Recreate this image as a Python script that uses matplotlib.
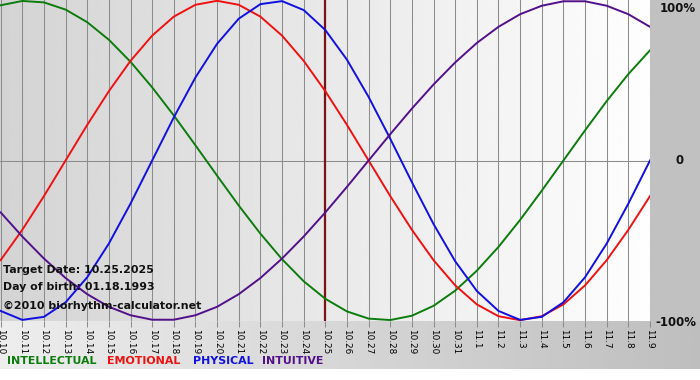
import numpy as np
import matplotlib
matplotlib.use("Agg")
import matplotlib.pyplot as plt

# ---- data ----
dates = ["10.10", "10.11", "10.12", "10.13", "10.14", "10.15", "10.16", "10.17",
         "10.18", "10.19", "10.20", "10.21", "10.22", "10.23", "10.24", "10.25",
         "10.26", "10.27", "10.28", "10.29", "10.30", "10.31", "11.1", "11.2",
         "11.3", "11.4", "11.5", "11.6", "11.7", "11.8", "11.9"]

intellectual = [0.972, 0.999, 0.990, 0.945, 0.866, 0.756, 0.618, 0.458, 0.282, 0.095,
                -0.095, -0.282, -0.458, -0.618, -0.756, -0.866, -0.945, -0.990, -0.999,
                -0.972, -0.910, -0.815, -0.690, -0.541, -0.372, -0.189, 0.0, 0.189,
                0.372, 0.541, 0.690]
emotional = [-0.624, -0.434, -0.223, 0.0, 0.223, 0.434, 0.624, 0.782, 0.901, 0.975,
             1.0, 0.975, 0.901, 0.782, 0.624, 0.434, 0.223, 0.0, -0.223, -0.434,
             -0.624, -0.782, -0.901, -0.975, -1.0, -0.975, -0.901, -0.782, -0.624,
             -0.434, -0.223]
physical = [-0.942, -0.998, -0.979, -0.888, -0.731, -0.520, -0.270, 0.0, 0.270, 0.520,
            0.731, 0.888, 0.979, 0.998, 0.942, 0.817, 0.631, 0.398, 0.136, -0.136,
            -0.398, -0.631, -0.817, -0.942, -0.998, -0.979, -0.888, -0.731, -0.520,
            -0.270, 0.0]
intuitive = [-0.325, -0.476, -0.614, -0.736, -0.837, -0.916, -0.969, -0.997, -0.997,
             -0.969, -0.916, -0.837, -0.736, -0.614, -0.476, -0.325, -0.165, 0.0,
             0.165, 0.325, 0.476, 0.614, 0.736, 0.837, 0.916, 0.969, 0.997, 0.997,
             0.969, 0.916, 0.837]

target_label = "10.25"
y_labels = ["100%", "0", "-100%"]
series_names = ["INTELLECTUAL", "EMOTIONAL", "PHYSICAL", "INTUITIVE"]
info_lines = ["Target Date: 10.25.2025", "Day of birth: 01.18.1993",
              "\u00a92010 biorhythm-calculator.net"]

# ---- styles ----
C_INT = "#0c7c0c"
C_EMO = "#ee1111"
C_PHY = "#1010e0"
C_ITU = "#52108a"
colors = [C_INT, C_EMO, C_PHY, C_ITU]

W, H = 700, 380
fig = plt.figure(figsize=(7, 3.8), dpi=100)
fig.patch.set_facecolor("white")

# background axes in pixel coordinates
bg = fig.add_axes([0, 0, 1, 1], zorder=-5)
PR, PB = 650, 321   # plot right, plot bottom (pixels)
grad_plot = np.linspace(0.83, 0.995, 256).reshape(1, -1)
bg.imshow(grad_plot, extent=(0, PR, PB, 0), cmap="gray", vmin=0, vmax=1,
          aspect="auto", interpolation="bilinear")
bg.imshow(np.full((1, 1), 0.755), extent=(PR, W, PB, 0), cmap="gray", vmin=0, vmax=1,
          aspect="auto")
grad_band = np.linspace(0.93, 0.745, 256).reshape(1, -1)
bg.imshow(grad_band, extent=(0, W, 369, PB), cmap="gray", vmin=0, vmax=1,
          aspect="auto", interpolation="bilinear")
bg.set_xlim(0, W)
bg.set_ylim(H, 0)
bg.axis("off")

# main axes
ax = fig.add_axes([0, 1 - PB / H, PR / W, PB / H])
ax.set_facecolor("none")
x = np.arange(len(dates))
ax.set_xlim(-0.03, len(dates) - 1)
ax.set_ylim(-1.005, 1.005)

for xi in x:
    ax.axvline(xi, color="#8c8c8c", lw=0.75, zorder=1)
ax.axhline(0, color="#8c8c8c", lw=0.75, zorder=1)

ti = dates.index(target_label)
ax.axvline(ti, color="#7a1414", lw=1.6, zorder=2)

for vals, c in zip([intellectual, emotional, physical, intuitive], colors):
    ax.plot(x, vals, color=c, lw=1.4, zorder=3, solid_joinstyle="round")

for s in ax.spines.values():
    s.set_visible(False)
ax.set_yticks([])
ax.set_xticks(x)
ax.set_xticklabels(dates, rotation=270, fontsize=6.4, color="#000000")
ax.tick_params(axis="x", length=4.5, width=0.75, color="#8c8c8c", pad=1.5)
for lab in ax.get_xticklabels():
    lab.set_ha("center")
    lab.set_va("top")

# right labels
fig.text(660 / W, 1 - 9 / H, y_labels[0], fontsize=8.5, fontweight="bold",
         ha="left", va="center", color="#111111")
fig.text(676 / W, 1 - 161 / H, y_labels[1], fontsize=8.5, fontweight="bold",
         ha="left", va="center", color="#111111")
fig.text(655 / W, 1 - 322 / H, y_labels[2], fontsize=8.5, fontweight="bold",
         ha="left", va="center", color="#111111")

# info text
for txt, yy in zip(info_lines, [270, 287, 306]):
    fig.text(3 / W, 1 - yy / H, txt, fontsize=7.9, fontweight="bold",
             ha="left", va="center", color="#111111")

# legend text
for name, c, xx in zip(series_names, colors, [7, 107, 193, 262]):
    fig.text(xx / W, 1 - 361 / H, name, fontsize=7.9, fontweight="bold",
             ha="left", va="center", color=c)

fig.savefig("out.png", dpi=100)
